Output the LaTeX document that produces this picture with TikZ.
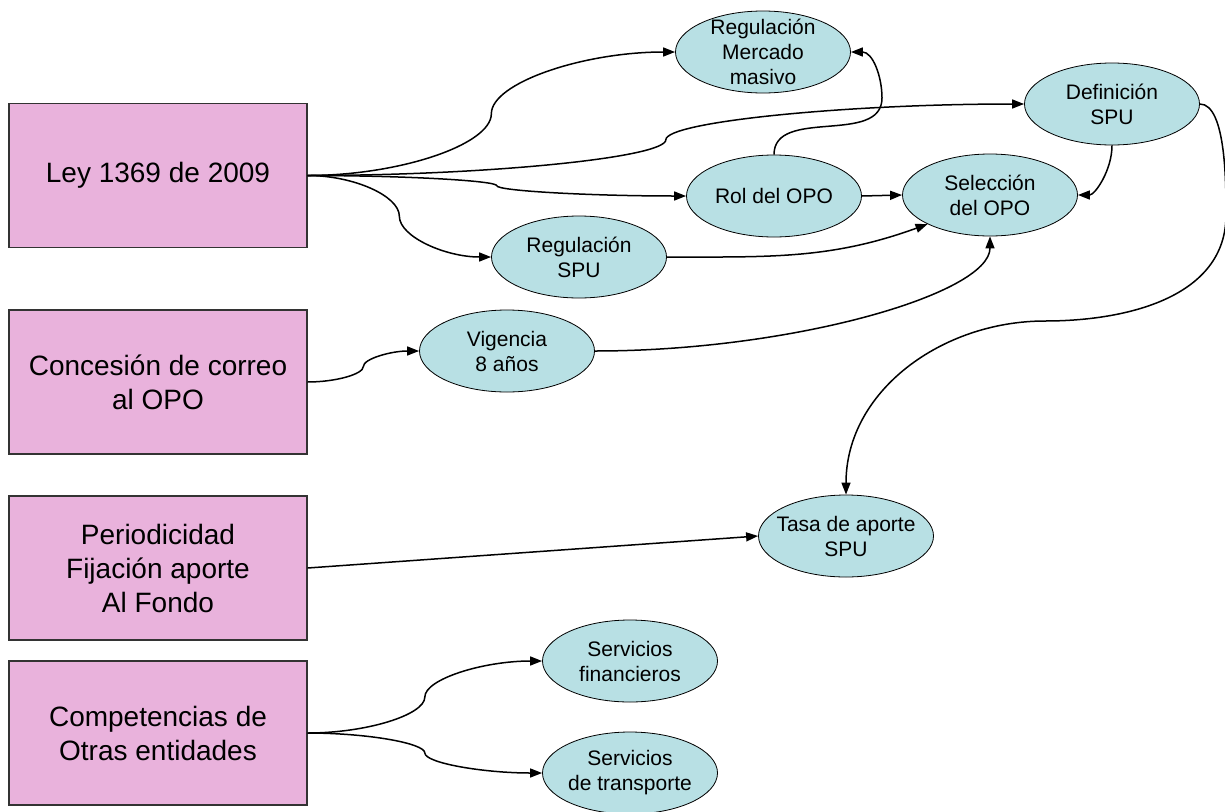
\documentclass[tikz,border=0pt]{standalone}
\usepackage{fontspec}
\setmainfont{Liberation Sans}
\usetikzlibrary{arrows.meta,shapes.geometric,calc}
\definecolor{boxpink}{RGB}{233,178,220}
\definecolor{ovalblue}{RGB}{184,224,228}

\begin{document}
\begin{tikzpicture}[x=1pt,y=1pt,->,>={Triangle[length=12pt,width=9pt]},line width=1.5pt,
  box node/.style={rectangle,draw=black!80,line width=1.2pt,fill=boxpink,minimum width=298pt,
    minimum height=144pt,align=center,font=\fontsize{28}{34}\selectfont},
  oval node/.style={ellipse,draw,line width=.8pt,fill=ovalblue,minimum width=175pt,minimum height=82pt,
    inner xsep=-16pt,inner ysep=-12pt,align=center,font=\fontsize{21}{25}\selectfont},
  sbend/.style={to path={let \p1=(\tikztostart),\p2=(\tikztotarget),
      \n1={(\x2-\x1)/4},\n2={(\y2-\y1)/4},\n3={(\y1-\y2)/4},\n4={(\x1-\x2)/4} in
      .. controls +(\n1,0) and +(0,\n3) .. ($(\p1)!.5!(\p2)$)
      .. controls +(0,\n2) and +(\n4,0) .. (\p2)}},
  hvbend/.style={to path={let \p1=(\tikztostart),\p2=(\tikztotarget),
      \n1={(\x2-\x1)/2},\n2={(\y1-\y2)/2} in
      .. controls +(\n1,0) and +(0,\n2) .. (\p2)}},
  vhbend/.style={to path={let \p1=(\tikztostart),\p2=(\tikztotarget),
      \n1={(\y2-\y1)/2},\n2={(\x1-\x2)/2} in
      .. controls +(0,\n1) and +(\n2,0) .. (\p2)}}]
\useasboundingbox (0,0) rectangle (1225,-811);

% left boxes
  \node (ley)  at (158,-175.5) [box node] {Ley 1369 de 2009};
  \node (conc) at (158,-382)   [box node] {Concesión de correo\\al OPO};
  \node (peri) at (158,-568)   [box node] {Periodicidad\\Fijación aporte\\Al Fondo};
  \node (comp) at (158,-733)   [box node] {Competencias de\\Otras entidades};

% ovals
  \node (regmm)  at (763,-52)  [oval node] {Regulación\\Mercado\\masivo};
  \node (def)    at (1112,-104) [oval node] {Definición\\SPU};
  \node (rol)    at (774,-196) [oval node] {Rol del OPO};
  \node (sel)    at (990,-195) [oval node] {Selección\\del OPO};
  \node (regspu) at (579,-257) [oval node] {Regulación\\SPU};
  \node (vig)    at (507,-351) [oval node] {Vigencia\\8 años};
  \node (tasa)   at (846,-536) [oval node] {Tasa de aporte\\SPU};
  \node (fin)    at (630,-661) [oval node] {Servicios\\financieros};
  \node (trans)  at (630,-773) [oval node] {Servicios\\de transporte};

% from the law
  \path
    (ley.east) edge [sbend] (regmm.west)
    (ley.east) edge [sbend] (def.west)
    (ley.east) edge [sbend] (rol.west)
    (ley.east) edge [sbend] (regspu.west);

% into the selection
  \path
    (rol.east) edge (sel.west)
    (def.south) edge [vhbend] (sel.east)
    (regspu.east) edge [out=0,in=200] (sel.-155)
    (vig.east) edge [hvbend] (sel.south)
    (conc.east) edge [sbend] (vig.west);

  \coordinate (rolbend) at (882,-98);
  \draw (rol.north) to[out=90,in=-90] (rolbend) to[out=90,in=0] (regmm.east);

% long way round to the rate
  \coordinate (defbend1) at (1226,-215);
  \coordinate (defbend2) at (1045,-321);
  \draw (def.east) to[out=0,in=90,looseness=.6] (defbend1)
    to[out=-90,in=0] (defbend2) to[out=180,in=90] (tasa.north);

  \path
    (peri.east) edge (tasa.west)
    (comp.east) edge [sbend] (fin.west)
    (comp.east) edge [sbend] (trans.west);

\end{tikzpicture}
\end{document}
